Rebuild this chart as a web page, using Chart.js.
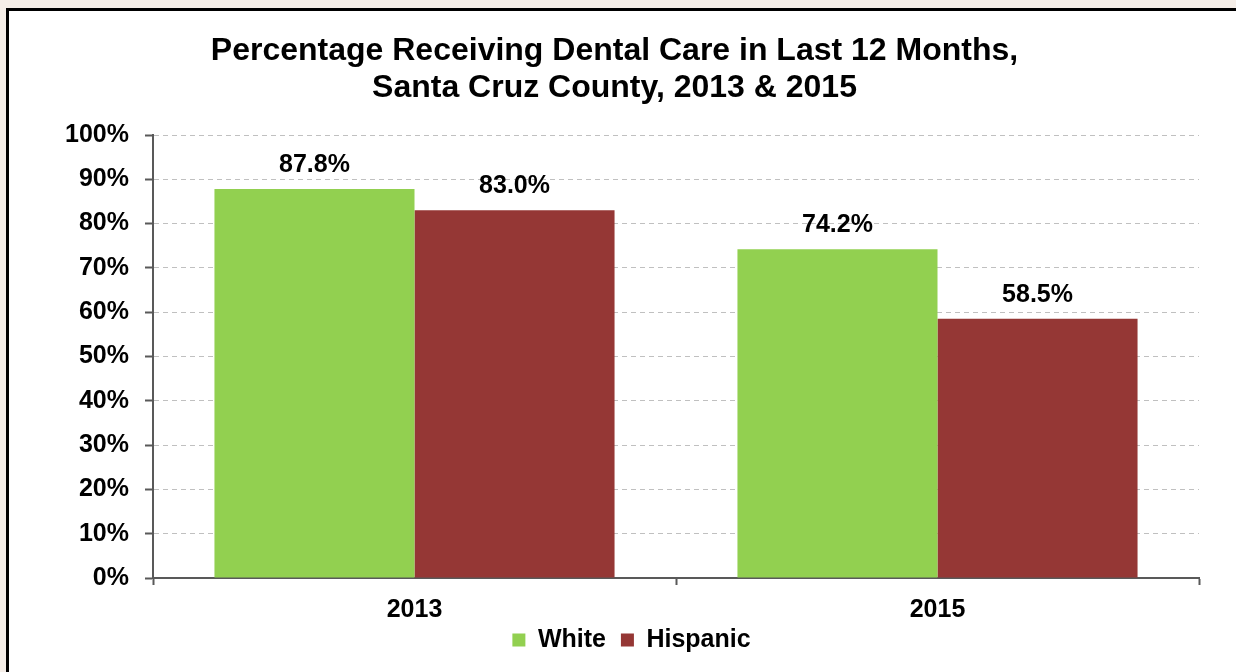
<!DOCTYPE html>
<html>
<head>
<meta charset="utf-8">
<script src="https://cdn.jsdelivr.net/npm/chart.js@4"></script>
<style>
  html, body { margin: 0; padding: 0; width: 1236px; height: 672px; overflow: hidden; background: #f5eee8; }
  #frame { position: absolute; left: 6px; top: 8px; width: 1300px; height: 720px; border: 3px solid #000; background: #fff; }
  #c { position: absolute; left: 0; top: 0; }
</style>
</head>
<body>
<div id="frame"></div>
<canvas id="c" width="1236" height="672"></canvas>
<script>
const categories = ['2013', '2015'];
const seriesNames = ['White', 'Hispanic'];
const whiteValues = [87.8, 74.2];
const hispanicValues = [83.0, 58.5];
const titleLines = ['Percentage Receiving Dental Care in Last 12 Months,', 'Santa Cruz County, 2013 & 2015'];

const FONT = "'Liberation Sans', Arial, sans-serif";

const valueLabels = {
  id: 'valueLabels',
  afterDatasetsDraw(chart) {
    const ctx = chart.ctx;
    ctx.save();
    ctx.font = 'bold 25px ' + FONT;
    ctx.fillStyle = '#000';
    ctx.textAlign = 'center';
    ctx.textBaseline = 'middle';
    chart.data.datasets.forEach((ds, i) => {
      const meta = chart.getDatasetMeta(i);
      meta.data.forEach((el, j) => {
        ctx.fillText(ds.data[j].toFixed(1) + '%', el.x, el.y - 24);
      });
    });
    ctx.restore();
  }
};

const shiftBoxes = {
  id: 'shiftBoxes',
  afterLayout(chart) {
    const t = chart.titleBlock;
    if (t) { t.left += 15; t.right += 15; }
    const l = chart.legend;
    if (l) { l.left += 32; l.right += 32; l.top -= 9.5; l.bottom -= 9.5; }
  }
};

new Chart(document.getElementById('c'), {
  type: 'bar',
  data: {
    labels: categories,
    datasets: [
      { label: seriesNames[0], data: whiteValues, backgroundColor: '#92d050', borderWidth: 0 },
      { label: seriesNames[1], data: hispanicValues, backgroundColor: '#953735', borderWidth: 0 }
    ]
  },
  options: {
    responsive: false,
    animation: false,
    devicePixelRatio: 1,
    layout: { padding: { left: 0, right: 37, top: 0, bottom: 0 } },
    datasets: { bar: { categoryPercentage: 0.765, barPercentage: 1.0 } },
    plugins: {
      title: {
        display: true,
        text: titleLines,
        color: '#000',
        font: { family: FONT, size: 32, weight: 'bold', lineHeight: 37 / 32 },
        padding: { top: 33, bottom: 28 }
      },
      legend: {
        display: true,
        position: 'bottom',
        labels: {
          color: '#000',
          font: { family: FONT, size: 25, weight: 'bold' },
          boxWidth: 13,
          boxHeight: 13,
          padding: 15
        }
      },
      tooltip: { enabled: false }
    },
    scales: {
      x: {
        offset: true,
        grid: { display: true, drawOnChartArea: false, offset: true, tickLength: 7, tickColor: '#595959', tickWidth: 2 },
        border: { display: true, color: '#595959', width: 2 },
        ticks: { color: '#000', font: { family: FONT, size: 25, weight: 'bold' }, padding: 10 },
        afterFit(scale) { scale.height = 44; }
      },
      y: {
        min: 0,
        max: 100,
        ticks: {
          stepSize: 10,
          color: '#000',
          font: { family: FONT, size: 25, weight: 'bold' },
          padding: 16,
          callback: v => v + '%'
        },
        grid: { color: '#c0c0c0', lineWidth: 1, tickLength: 8, tickColor: '#595959', tickWidth: 2 },
        border: { display: true, color: '#595959', width: 2, dash: [5, 4] },
        afterFit(scale) { scale.width = 153; }
      }
    }
  },
  plugins: [valueLabels, shiftBoxes]
});
</script>
</body>
</html>
